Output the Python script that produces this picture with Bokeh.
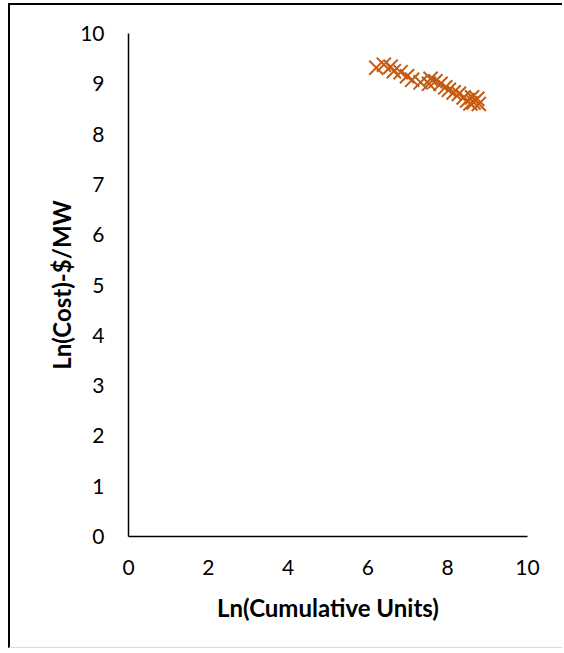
from bokeh.plotting import figure
from bokeh.embed import file_html
from bokeh.resources import INLINE
from bokeh.models import Range1d, FixedTicker

# Data (ln cumulative units, ln cost $/MW)
ln_units = [6.21, 6.40, 6.57, 6.65, 6.82, 6.98, 7.11, 7.32, 7.53, 7.57, 7.69, 7.82,
            7.94, 8.03, 8.15, 8.28, 8.40, 8.49, 8.57, 8.61, 8.65, 8.74, 8.78]
ln_cost = [9.32, 9.38, 9.34, 9.25, 9.23, 9.15, 9.08, 9.03, 9.00, 9.10, 9.05, 9.00,
           8.93, 8.88, 8.83, 8.80, 8.73, 8.67, 8.61, 8.73, 8.63, 8.70, 8.60]
x_ticks = [0, 2, 4, 6, 8, 10]
y_ticks = [0, 1, 2, 3, 4, 5, 6, 7, 8, 9, 10]

FONT = "Lato"

p = figure(width=554, height=645, output_backend="svg", toolbar_location=None,
           x_range=Range1d(0, 10), y_range=Range1d(0, 10),
           min_border_left=118, min_border_right=37, min_border_top=28, min_border_bottom=114)
p.styles = {"margin-left": "8px", "margin-top": "3px",
            "border-left": "2px solid black", "border-top": "2px solid black",
            "border-bottom": "1px solid #d9d9d9"}

p.scatter(ln_units, ln_cost, marker="x", size=20, line_color="#C55A11", line_width=2)

p.xgrid.visible = False
p.ygrid.visible = False
p.outline_line_color = None
p.background_fill_color = "white"
p.border_fill_color = "white"

for ax in (p.xaxis[0], p.yaxis[0]):
    ax.axis_line_color = "black"
    ax.axis_line_width = 1.5
    ax.major_tick_line_color = None
    ax.minor_tick_line_color = None
    ax.major_label_text_font = FONT
    ax.major_label_text_font_size = "21px"
    ax.major_label_text_color = "black"
    ax.axis_label_text_font = FONT
    ax.axis_label_text_font_size = "24px"
    ax.axis_label_text_font_style = "bold"
    ax.axis_label_text_color = "black"

p.xaxis.ticker = FixedTicker(ticks=x_ticks)
p.yaxis.ticker = FixedTicker(ticks=y_ticks)
p.xaxis.axis_label = "Ln(Cumulative Units)"
p.yaxis.axis_label = "Ln(Cost)-$/MW"
p.xaxis.major_label_standoff = 17
p.yaxis.major_label_standoff = 18
p.xaxis.axis_label_standoff = 15
p.yaxis.axis_label_standoff = 1

open("out.html", "w").write(file_html(p, INLINE))
